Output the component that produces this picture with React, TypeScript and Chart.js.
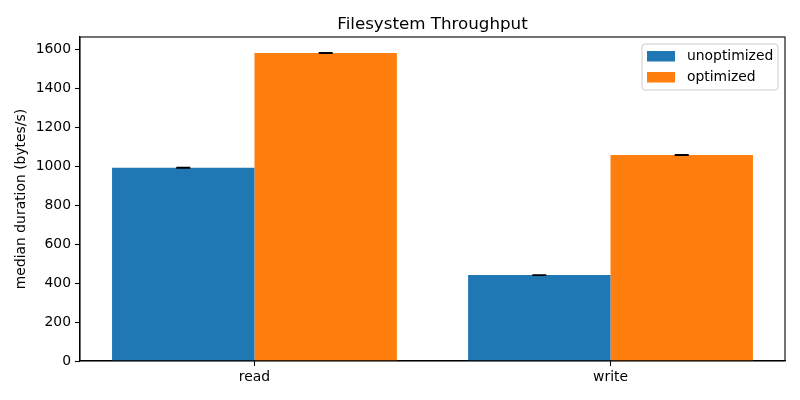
import { useEffect, useRef } from "react";
import { Chart, ChartConfiguration, Plugin, registerables } from "chart.js";

Chart.register(...registerables);

const categories = ["read", "write"];
const seriesNames = ["unoptimized", "optimized"];
const unoptimized = [992, 441];
const optimized = [1581, 1057];
const unoptimizedErr = [1.5, 1];
const optimizedErr = [1.5, 1];
const yTicks = [0, 200, 400, 600, 800, 1000, 1200, 1400, 1600];
const colors = ["#1f77b4", "#ff7f0e"];

const FONT = "DejaVu Sans";

const errorBars: Plugin = {
  id: "errorBars",
  afterDatasetsDraw(chart) {
    const ctx = chart.ctx;
    const y = chart.scales.y;
    const errs = [unoptimizedErr, optimizedErr];
    ctx.save();
    ctx.strokeStyle = "#000";
    ctx.lineWidth = 1.5;
    chart.data.datasets.forEach((ds, di) => {
      const meta = chart.getDatasetMeta(di);
      meta.data.forEach((el: any, i) => {
        const v = (ds.data[i] as any).y as number;
        const e = errs[di][i];
        const top = y.getPixelForValue(v + e);
        const bot = y.getPixelForValue(v - e);
        ctx.beginPath();
        ctx.moveTo(el.x, top);
        ctx.lineTo(el.x, bot);
        ctx.moveTo(el.x - 7, top);
        ctx.lineTo(el.x + 7, top);
        ctx.moveTo(el.x - 7, bot);
        ctx.lineTo(el.x + 7, bot);
        ctx.stroke();
      });
    });
    ctx.restore();
  },
};

const titleAndLegend: Plugin = {
  id: "titleAndLegend",
  afterDraw(chart) {
    const ctx = chart.ctx;
    const area = chart.chartArea;
    ctx.save();
    // spines on all four sides
    ctx.strokeStyle = "#000";
    ctx.lineWidth = 1.1;
    ctx.strokeRect(area.left, area.top, area.right - area.left, area.bottom - area.top);

    // title
    ctx.fillStyle = "#000";
    ctx.font = `16.7px '${FONT}'`;
    ctx.textAlign = "center";
    ctx.textBaseline = "alphabetic";
    ctx.fillText("Filesystem Throughput", (area.left + area.right) / 2, 29);

    // legend box
    const right = area.right - 7;
    const left = right - 136;
    const top = area.top + 7;
    const h = 46;
    ctx.beginPath();
    ctx.roundRect(left, top, right - left, h, 3);
    ctx.fillStyle = "rgba(255,255,255,0.8)";
    ctx.fill();
    ctx.strokeStyle = "#cccccc";
    ctx.lineWidth = 1;
    ctx.stroke();

    ctx.font = `13.9px '${FONT}'`;
    ctx.textAlign = "left";
    ctx.textBaseline = "middle";
    seriesNames.forEach((name, i) => {
      const cy = top + 12 + i * 21;
      ctx.fillStyle = colors[i];
      ctx.fillRect(left + 5, cy - 5, 28, 10.5);
      ctx.fillStyle = "#000";
      ctx.fillText(name, left + 45, cy);
    });
    ctx.restore();
  },
};

function BarChart(): JSX.Element {
  const chartRef = useRef<HTMLCanvasElement | null>(null);
  const chartInstance = useRef<Chart | null>(null);

  useEffect(() => {
    if (!chartRef.current) return;
    const ctx = chartRef.current.getContext("2d");
    if (!ctx) return;

    const config: ChartConfiguration = {
      type: "bar",
      data: {
        datasets: [
          {
            label: seriesNames[0],
            data: unoptimized.map((v, i) => ({ x: i, y: v })),
            backgroundColor: colors[0],
            borderWidth: 0,
          },
          {
            label: seriesNames[1],
            data: optimized.map((v, i) => ({ x: i, y: v })),
            backgroundColor: colors[1],
            borderWidth: 0,
          },
        ] as any,
      },
      options: {
        responsive: false,
        animation: false,
        layout: { padding: { top: 37, right: 15, left: 0, bottom: 0 } },
        datasets: {
          bar: { categoryPercentage: 0.8, barPercentage: 1.0 },
        },
        plugins: {
          legend: { display: false },
          title: { display: false },
          tooltip: { enabled: false },
        },
        scales: {
          x: {
            type: "linear",
            min: -0.49,
            max: 1.49,
            offset: false,
            afterBuildTicks: (scale: any) => {
              scale.ticks = categories.map((_, i) => ({ value: i }));
            },
            afterFit: (scale: any) => {
              scale.height = 39;
            },
            ticks: {
              callback: (v: any) => categories[v as number] ?? "",
              color: "#000",
              font: { family: FONT, size: 13.9 },
              padding: 3,
              maxRotation: 0,
              autoSkip: false,
            },
            grid: {
              offset: false,
              drawOnChartArea: false,
              drawTicks: true,
              tickLength: 5,
              tickColor: "#000",
              tickWidth: 1.1,
            },
            border: { display: true, color: "#000", width: 1.1 },
          },
          y: {
            min: 0,
            max: 1663,
            afterBuildTicks: (scale: any) => {
              scale.ticks = yTicks.map((v) => ({ value: v }));
            },
            afterFit: (scale: any) => {
              scale.width = 80;
            },
            ticks: {
              callback: (v: any) => String(v),
              color: "#000",
              font: { family: FONT, size: 13.9 },
              padding: 4,
            },
            grid: {
              drawOnChartArea: false,
              drawTicks: true,
              tickLength: 5,
              tickColor: "#000",
              tickWidth: 1.1,
            },
            border: { display: true, color: "#000", width: 1.1 },
            title: {
              display: true,
              text: "median duration (bytes/s)",
              color: "#000",
              font: { family: FONT, size: 13.9 },
              padding: { top: 13, bottom: 0 },
            },
          },
        },
      } as any,
      plugins: [errorBars, titleAndLegend],
    };

    if (chartInstance.current) {
      chartInstance.current.destroy();
    }
    chartInstance.current = new Chart(ctx, config);

    return () => {
      if (chartInstance.current) {
        chartInstance.current.destroy();
        chartInstance.current = null;
      }
    };
  }, []);

  return (
    <div style={{ position: "absolute", left: 0, top: 0, width: 800, height: 400, background: "#fff" }}>
      <canvas ref={chartRef} width={800} height={400} style={{ width: 800, height: 400 }}></canvas>
    </div>
  );
}

export default function App(): JSX.Element {
  return <BarChart />;
}
